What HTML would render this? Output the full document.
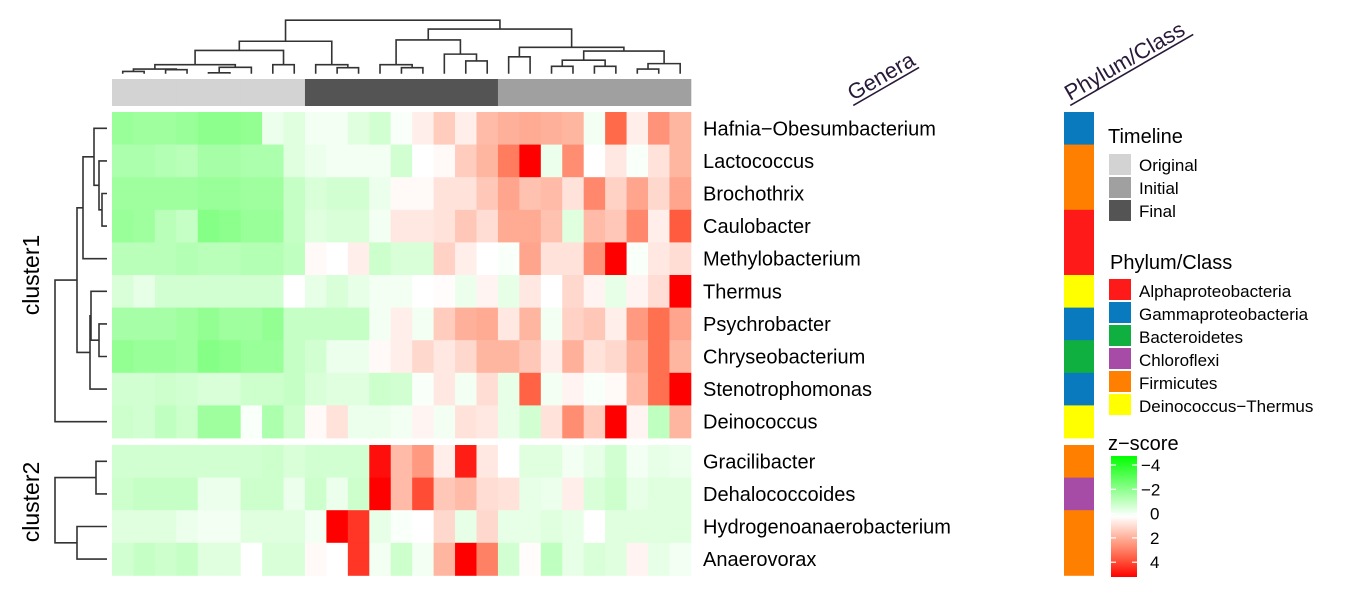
<!DOCTYPE html>
<html><head><meta charset="utf-8"><title>Heatmap</title>
<style>
html,body{margin:0;padding:0;background:#fff;}
svg{display:block;font-family:"Liberation Sans",Arial,sans-serif;}
</style></head>
<body>
<svg id="chart" width="1355" height="592" viewBox="0 0 1355 592" xmlns="http://www.w3.org/2000/svg">
<g id="cells"></g>
<g id="coldend" stroke="#333" stroke-width="1.6" fill="none"></g>
<g id="rowdend" stroke="#333" stroke-width="1.6" fill="none"></g>
<g id="timeline"></g>
<g id="sidebar"></g>
<g id="labels" font-size="20" fill="#000"></g>
<text x="0" y="0" font-size="23" transform="translate(39,275) rotate(-90)" text-anchor="middle">cluster1</text>
<text x="0" y="0" font-size="23" transform="translate(39,502) rotate(-90)" text-anchor="middle">cluster2</text>
<g transform="translate(853,101) rotate(-30)">
<text x="0" y="0" font-size="22" fill="#2a1a3a">Genera</text>
<line x1="-2" y1="4" x2="74" y2="4" stroke="#2a1a3a" stroke-width="1.6"/>
</g>
<g transform="translate(1070,101) rotate(-30)">
<text x="0" y="0" font-size="22" fill="#2a1a3a">Phylum/Class</text>
<line x1="-2" y1="4" x2="140" y2="4" stroke="#2a1a3a" stroke-width="1.6"/>
</g>
<g id="legend" font-size="17"></g>
</svg>
<script>
const NS="http://www.w3.org/2000/svg";
const genera=["Hafnia\u2212Obesumbacterium","Lactococcus","Brochothrix","Caulobacter","Methylobacterium","Thermus","Psychrobacter","Chryseobacterium","Stenotrophomonas","Deinococcus","Gracilibacter","Dehalococcoides","Hydrogenoanaerobacterium","Anaerovorax"];
const phylum=["Gamma","Firm","Firm","Alpha","Alpha","Deino","Gamma","Bact","Gamma","Deino","Firm","Chloro","Firm","Firm"];
const timeline=["Original","Original","Original","Original","Original","Original","Original","Original","Original","Final","Final","Final","Final","Final","Final","Final","Final","Final","Initial","Initial","Initial","Initial","Initial","Initial","Initial","Initial","Initial"];
const zHafnia=[-1.6,-1.5,-1.5,-1.6,-1.8,-1.8,-1.7,-0.3,-0.5,-0.2,-0.2,-0.5,-0.7,-0.1,0.3,0.9,0.3,1.2,1.4,1.5,1.4,1.3,-0.2,2.6,0.3,1.9,1.3];
const zLacto=[-1.3,-1.3,-1.2,-1.1,-1.4,-1.4,-1.3,-1.3,-0.5,-0.3,-0.2,-0.2,-0.2,-0.7,0,0.1,0.9,1.3,2.3,4,-0.3,2,0,0.4,-0.1,0.5,1.3];
const zBroch=[-1.5,-1.5,-1.5,-1.5,-1.6,-1.6,-1.5,-1.5,-0.9,-0.6,-0.7,-0.7,-0.3,0.1,0.1,0.5,0.5,1.0,1.6,1.1,1.2,0.5,2.1,0.8,1.6,0.7,1.6];
const zCaulo=[-1.6,-1.5,-1.1,-0.9,-1.9,-1.8,-1.6,-1.6,-0.9,-0.5,-0.6,-0.6,-0.2,0.4,0.4,0.5,1.0,0.6,1.5,1.5,1.1,-0.5,1.2,1.0,2.1,0.3,2.8];
const zMethy=[-1.1,-1.1,-1.1,-1.2,-1.1,-1.1,-1.2,-1.2,-1.0,0.1,0,0.3,-0.8,-0.6,-0.6,0.8,0.3,0,-0.1,1.6,0.5,0.5,1.9,4,-0.1,0.4,0.6];
const zTherm=[-0.6,-0.4,-0.7,-0.7,-0.7,-0.7,-0.7,-0.7,0,-0.4,-0.6,-0.4,-0.2,-0.2,0,0.05,-0.3,0.2,-0.4,0.4,0,0.7,0.2,-0.4,0.2,0.6,4];
const zPsych=[-1.4,-1.4,-1.4,-1.5,-1.7,-1.5,-1.5,-1.7,-0.9,-0.9,-0.9,-0.9,-0.2,0.3,-0.2,0.9,1.4,1.5,0.4,1.3,-0.2,0.8,1.0,0.3,1.8,2.5,1.6];
const zChrys=[-1.7,-1.6,-1.6,-1.5,-1.9,-1.8,-1.6,-1.6,-0.9,-0.7,-0.3,-0.3,0.1,0.3,0.7,0.4,0.7,1.3,1.3,1.0,0.3,1.4,0.5,0.7,1.4,2.5,1.3];
const zSteno=[-0.7,-0.7,-0.8,-0.7,-0.6,-0.6,-0.8,-0.8,-0.9,-0.6,-0.5,-0.5,-0.8,-0.7,-0.1,0.4,-0.2,0.6,-0.4,2.7,-0.2,0.2,-0.1,0.1,1.2,2.5,4];
const zDeino=[-0.8,-0.7,-1.0,-0.8,-1.5,-1.5,-0.1,-1.3,-0.8,0.1,0.5,-0.3,-0.3,-0.2,0.2,-0.2,0.5,0.4,-0.4,-0.7,0.5,2,0.9,4,0.2,-1.0,1.3];
const zGraci=[-0.7,-0.7,-0.7,-0.7,-0.7,-0.7,-0.7,-0.8,-0.6,-0.7,-0.7,-0.7,3.8,1.2,1.8,0.3,3.6,0.4,0,-0.5,-0.5,-0.2,-0.4,-0.7,-0.2,-0.4,-0.3];
const zDehal=[-0.8,-0.9,-0.9,-0.9,-0.3,-0.3,-0.8,-0.8,-0.3,-0.8,-0.3,-0.8,4,1.2,3.0,1.0,1.2,0.6,0.5,-0.4,-0.3,0.3,-0.6,-0.8,-0.4,-0.5,-0.5];
const zHydro=[-0.5,-0.5,-0.5,-0.3,-0.2,-0.2,-0.5,-0.5,-0.5,-0.2,4,3.3,-0.4,-0.1,0,0.7,-0.4,0.7,-0.4,-0.4,-0.5,-0.4,0,-0.5,-0.5,-0.5,-0.5];
const zAnaer=[-0.7,-0.9,-0.8,-0.9,-0.5,-0.5,0,-0.6,-0.6,0.1,0,3.3,-0.2,-0.8,-0.2,1.3,4,2.2,-0.7,0.05,-1.0,-0.4,-0.6,-0.5,0.2,-0.4,-0.2];
const zRows=[zHafnia,zLacto,zBroch,zCaulo,zMethy,zTherm,zPsych,zChrys,zSteno,zDeino,zGraci,zDehal,zHydro,zAnaer];
const colMerges=[[-1,-2,193],[-3,-4,188],[1,2,186],[-5,-6,197],[4,-7,181],[3,5,173],[-8,-9,173],[6,7,131],[-11,-12,182],[-10,9,173],[8,10,104],[-14,-15,182],[-13,12,173],[-17,-18,162],[-16,14,142],[13,15,100],[-19,-20,150],[-21,-22,178],[-23,-24,178],[18,19,160],[-25,-26,186],[21,-27,170],[20,22,133],[17,23,122],[16,24,68],[11,25,42]];
const rowMerges=[[-3,-4,102],[-2,1,99],[-1,2,94],[3,-5,83],[-7,-8,99],[-6,5,91],[6,-9,90],[4,7,77],[8,-10,55],[-11,-12,96],[-13,-14,77],[10,11,55]];

const X0=112, CW=578.9/27, RH=32.6, Y1=112, Y2=445;
const xCol=c=>X0+c*CW;
const yRow=r=>r<10?Y1+r*RH:Y2+(r-10)*RH;
function lerp(a,b,t){return a.map((v,i)=>Math.round(v+(b[i]-v)*t));}
function zColor(v){
  let t=Math.min(1,Math.abs(v)/4);
  if(v<0){return "rgb("+lerp([255,255,255],[0,255,0],t)+")";}
  const s=[[0,[255,255,255]],[0.35,[255,176,154]],[0.65,[255,106,74]],[1,[255,0,0]]];
  for(let i=1;i<s.length;i++){if(t<=s[i][0]){const u=(t-s[i-1][0])/(s[i][0]-s[i-1][0]);return "rgb("+lerp(s[i-1][1],s[i][1],u)+")";}}
  return "rgb(255,0,0)";
}
function mk(tag,attrs,parent){const e=document.createElementNS(NS,tag);for(const k in attrs)e.setAttribute(k,attrs[k]);parent.appendChild(e);return e;}
const cells=document.getElementById('cells');
zRows.forEach((row,r)=>{row.forEach((v,c)=>{
  const e=mk('rect',{x:xCol(c),y:yRow(r),width:CW+0.4,height:RH+0.4,fill:zColor(v)},cells);
  
  
});});
const tlColors={Original:"#d3d3d3",Initial:"#a0a0a0",Final:"#545454"};
const tl=document.getElementById('timeline');
timeline.forEach((t,c)=>{const e=mk('rect',{x:xCol(c),y:79,width:CW+0.4,height:27,fill:tlColors[t]},tl);
  
  });
const phColors={Alpha:"#ff1a1a",Gamma:"#0a7abf",Bact:"#10b040",Chloro:"#a64ca6",Firm:"#ff8000",Deino:"#ffff00"};
const sb=document.getElementById('sidebar');
phylum.forEach((p,r)=>{const e=mk('rect',{x:1064,y:yRow(r),width:30,height:RH+0.4,fill:phColors[p]},sb);
  
  });
const lg=document.getElementById('labels');
genera.forEach((g,r)=>{const e=mk('text',{x:703,y:yRow(r)+RH/2+7},lg);e.textContent=g;
  
  });
const cd=document.getElementById('coldend');
const cy=z=>6+z/2.95;
const cPos=[];
function colNode(id){if(id<0){return {x:xCol(-id-1)+CW/2,h:200};}return cPos[id-1];}
colMerges.forEach((m)=>{const a=colNode(m[0]),b=colNode(m[1]);
  const e=mk('path',{d:`M${a.x},${cy(a.h)}V${cy(m[2])}H${b.x}V${cy(b.h)}`},cd);
  
  
  cPos.push({x:(a.x+b.x)/2,h:m[2]});});
const rd=document.getElementById('rowdend');
const rx=z=>z;
const rPos=[];
function rowNode(id){if(id<0){return {y:yRow(-id-1)+RH/2,h:107};}return rPos[id-1];}
rowMerges.forEach((m)=>{const a=rowNode(m[0]),b=rowNode(m[1]);
  const e=mk('path',{d:`M${rx(a.h)},${a.y}H${rx(m[2])}V${b.y}H${rx(b.h)}`},rd);
  
  
  rPos.push({y:(a.y+b.y)/2,h:m[2]});});
const L=document.getElementById('legend');
function txt(x,y,s,size,name){const e=mk('text',{x:x,y:y,'font-size':size},L);e.textContent=s;
  
  return e;}
txt(1108,143,"Timeline",20,'timeline-legend-title');
[["Original","#d3d3d3"],["Initial","#a0a0a0"],["Final","#545454"]].forEach((d,i)=>{
  const e=mk('rect',{x:1109,y:154+i*23,width:22,height:21,fill:d[1]},L);
  
  
  txt(1139,171+i*23,d[0],17,'timeline-legend-label');});
txt(1110,269,"Phylum/Class",20,'phylum-legend-title');
[["Alphaproteobacteria","Alpha"],["Gammaproteobacteria","Gamma"],["Bacteroidetes","Bact"],["Chloroflexi","Chloro"],["Firmicutes","Firm"],["Deinococcus\u2212Thermus","Deino"]].forEach((d,i)=>{
  const e=mk('rect',{x:1109,y:279+i*23,width:22,height:21,fill:phColors[d[1]]},L);
  
  
  txt(1139,297+i*23,d[0],17,'phylum-legend-label');});
txt(1108,450,"z\u2212score",20,'zscore-legend-title');
const defs=mk('defs',{},L);
const gr=mk('linearGradient',{id:'zg',x1:0,y1:0,x2:0,y2:1},defs);
[-4.4,-3,-2,-1,0,1,2,3,4.4].forEach((v,i,a)=>{mk('stop',{offset:(i/(a.length-1)),'stop-color':zColor(v)},gr);});
const bar=mk('rect',{x:1111,y:456,width:26,height:121,fill:'url(#zg)'},L);


const zTicks=["\u22124","\u22122","0","2","4"];
zTicks.forEach((t,i)=>{const y=465+i*24.3;
  mk('line',{x1:1111,y1:y,x2:1116,y2:y,stroke:'#fff','stroke-width':1.2},L);
  mk('line',{x1:1132,y1:y,x2:1137,y2:y,stroke:'#fff','stroke-width':1.2},L);
  txt(t==="0"||t==="2"||t==="4"?1150:1141,y+6,t,17,'zscore-tick-label');});
</script>
</body></html>
